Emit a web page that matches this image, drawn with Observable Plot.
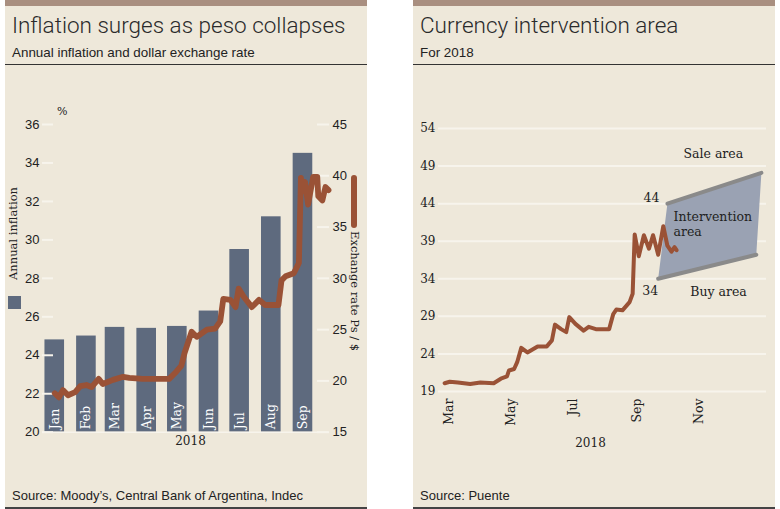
<!DOCTYPE html>
<html>
<head>
<meta charset="utf-8">
<script src="https://cdn.jsdelivr.net/npm/d3@7"></script>
<script src="https://cdn.jsdelivr.net/npm/@observablehq/plot@0.6"></script>
<style>
  html, body { margin: 0; padding: 0; background: #fff; }
  body { width: 780px; height: 509px; position: relative; overflow: hidden; }
  .panel { position: absolute; top: 0; width: 362px; height: 509px; background: #eee8da; }
  .topbar { position: absolute; left: 0; top: 0; width: 100%; height: 6px; background: #a98f80; }
  .title { position: absolute; left: 7px; top: 14px; font: 300 22.5px "Roboto", "Liberation Sans", sans-serif; color: #2a2a2a; white-space: nowrap; line-height: 1; }
  .subtitle { position: absolute; left: 7px; top: 46px; font: 13.4px "Liberation Sans", Arial, sans-serif; color: #222; white-space: nowrap; line-height: 1; }
  .rule { position: absolute; left: 0; top: 63.5px; width: 100%; height: 1.2px; background: #333; }
  .source { position: absolute; left: 7px; top: 489px; font: 13px "Liberation Sans", Arial, sans-serif; color: #222; white-space: nowrap; line-height: 1; }
  .bottomrule { position: absolute; left: 0; top: 507px; width: 100%; height: 2px; background: #444; }
  .chart { position: absolute; left: 0; top: 70px; }
  .vlabel { position: absolute; white-space: nowrap; font: 11.5px "DejaVu Serif", serif; color: #222; line-height: 1; }
  .up { writing-mode: vertical-rl; transform: rotate(180deg); }
  .down { writing-mode: vertical-rl; }
</style>
</head>
<body>
<div class="panel" style="left:5px">
  <div class="topbar"></div>
  <div class="title">Inflation surges as peso collapses</div>
  <div class="subtitle">Annual inflation and dollar exchange rate</div>
  <div class="rule"></div>
  <div id="inflationChart" class="chart"></div>
  <div class="vlabel up" style="left:3px; top:187px;">Annual inflation</div>
  <div style="position:absolute; left:3.3px; top:296px; width:12.4px; height:13px; background:#5e6a7e;"></div>
  <div class="vlabel" style="left:52px; top:106px; font-size:11px;">%</div>
  <div style="position:absolute; left:345.8px; top:175px; width:6.5px; height:53px; border-radius:3.3px; background:#9a5236;"></div>
  <div class="vlabel down" style="left:343px; top:231px;">Exchange rate Ps / $</div>
  <div class="source">Source: Moody’s, Central Bank of Argentina, Indec</div>
  <div class="bottomrule"></div>
</div>
<div class="panel" style="left:413px">
  <div class="topbar"></div>
  <div class="title">Currency intervention area</div>
  <div class="subtitle">For 2018</div>
  <div class="rule"></div>
  <div id="bandChart" class="chart"></div>
  <div class="source">Source: Puente</div>
  <div class="bottomrule"></div>
</div>
<script>
// ---- Inflation and exchange rate, 2018 ----
const months = ["Jan", "Feb", "Mar", "Apr", "May", "Jun", "Jul", "Aug", "Sep"];
const monthDates = ["2018-01-01", "2018-02-01", "2018-03-01", "2018-04-01", "2018-05-01",
                    "2018-06-01", "2018-07-01", "2018-08-01", "2018-09-01"];
const inflation = [24.8, 25.0, 25.45, 25.4, 25.5, 26.3, 29.5, 31.2, 34.5];
const inflationTicks = [20, 22, 24, 26, 28, 30, 32, 34, 36];
const rateTicks = [15, 20, 25, 30, 35, 40, 45];

const rateDates = [
  "2018-01-01", "2018-01-05", "2018-01-09", "2018-01-14", "2018-01-21", "2018-01-26",
  "2018-02-01", "2018-02-06", "2018-02-13", "2018-02-17", "2018-02-27", "2018-03-09",
  "2018-03-15", "2018-03-28", "2018-04-17", "2018-04-23", "2018-04-30", "2018-05-05",
  "2018-05-08", "2018-05-15", "2018-05-20", "2018-05-30", "2018-06-07", "2018-06-12",
  "2018-06-15", "2018-06-22", "2018-06-27", "2018-06-30", "2018-07-05", "2018-07-13",
  "2018-07-20", "2018-07-26", "2018-08-08", "2018-08-11", "2018-08-15", "2018-08-23",
  "2018-08-28", "2018-08-30", "2018-08-31", "2018-09-03", "2018-09-06", "2018-09-11",
  "2018-09-15", "2018-09-16", "2018-09-20", "2018-09-23", "2018-09-26"
];
const rateValues = [
  18.8, 18.4, 19.1, 18.6, 18.9, 19.5,
  19.6, 19.4, 20.2, 19.7, 20.1, 20.4,
  20.3, 20.2, 20.2, 20.2, 20.9, 21.5,
  22.7, 24.8, 24.3, 25.0, 25.1, 25.8,
  28.0, 27.9, 27.2, 29.0, 28.2, 27.2,
  27.9, 27.4, 27.4, 29.8, 30.2, 30.5,
  31.5, 39.8, 38.5, 39.4, 37.2, 39.9,
  39.9, 38.0, 37.6, 38.9, 38.6
];

// ---- Intervention band, 2018 ----
const bandTicks = [19, 24, 29, 34, 39, 44, 49, 54];
const bandMonthTicks = ["2018-03-01", "2018-05-01", "2018-07-01", "2018-09-01", "2018-11-01"];
const pesoDates = [
  "2018-02-25", "2018-03-02", "2018-03-10", "2018-03-22", "2018-04-01", "2018-04-14",
  "2018-04-21", "2018-04-27", "2018-04-29", "2018-05-04", "2018-05-07", "2018-05-11",
  "2018-05-17", "2018-05-27", "2018-06-05", "2018-06-10", "2018-06-13", "2018-06-19",
  "2018-06-24", "2018-06-27", "2018-07-03", "2018-07-11", "2018-07-16", "2018-07-23",
  "2018-08-05", "2018-08-09", "2018-08-12", "2018-08-18", "2018-08-25", "2018-08-28",
  "2018-08-30", "2018-09-03", "2018-09-08", "2018-09-13", "2018-09-17", "2018-09-22",
  "2018-09-27", "2018-10-01", "2018-10-05", "2018-10-08", "2018-10-10"
];
const pesoValues = [
  20.1, 20.3, 20.2, 20.0, 20.2, 20.1,
  20.7, 21.0, 21.8, 22.0, 22.9, 24.8,
  24.2, 25.0, 25.0, 25.8, 27.9, 27.3,
  26.9, 28.9, 28.0, 27.1, 27.6, 27.3,
  27.3, 29.3, 29.9, 29.8, 30.9, 32.0,
  39.9, 37.0, 39.8, 38.0, 39.8, 37.2,
  41.0, 38.4, 37.6, 38.2, 37.8
];
// ceiling (sale) and floor (buy) of the intervention band
const ceilingDates = ["2018-10-01", "2019-01-01"];
const ceilingValues = [44, 48.1];
const floorDates = ["2018-09-22", "2018-12-27"];
const floorValues = [34, 37.2];
const zoneLabels = ["Sale area", "Buy area"];
const zoneDates = ["2018-11-15", "2018-11-20"];
const zoneValues = [50.65, 32.3];
const innerLabel = "Intervention\narea";
const innerDate = "2018-10-07";
const innerValue = 41.3;

const SANS = "'Liberation Sans', Arial, sans-serif";
const SERIF = "'DejaVu Serif', serif";
const BAR = "#5e6a7e";
const PESO = "#9a5236";
const PALE = "#f7f4ec";
const DAY = 864e5;

// the exchange rate shares the inflation axis: 15..45 Ps/$ runs alongside 20..36 %
const toInflation = r => 20 + (r - 15) * 16 / 30;
const toRate = v => 15 + (v - 20) * 30 / 16;

const bars = months.map((m, i) => ({month: m, date: new Date(monthDates[i]), value: inflation[i]}));
const rate = rateDates.map((d, i) => ({date: new Date(d), value: rateValues[i]}));

const inflationPlot = Plot.plot({
  width: 362,
  height: 400,
  marginTop: 54,
  marginBottom: 38.3,
  marginLeft: 37,
  marginRight: 39,
  style: {background: "transparent", color: "#222", overflow: "visible"},
  x: {type: "utc", domain: [new Date("2017-12-20"), new Date("2018-09-26")], axis: null},
  y: {domain: [20, 36], axis: null, label: null},
  marks: [
    Plot.rectY(bars, {
      x1: d => new Date(+d.date - 9.6 * DAY),
      x2: d => new Date(+d.date + 9.6 * DAY),
      y1: 20, y2: "value", fill: BAR
    }),
    Plot.ruleY([20], {stroke: PALE, strokeWidth: 1.6}),
    Plot.axisY(inflationTicks, {anchor: "left", tickSize: 11, dx: 11, fill: "none", stroke: PALE, strokeWidth: 2, label: null}),
    Plot.axisY(rateTicks.map(toInflation), {anchor: "right", tickSize: 12, dx: -12, fill: "none", stroke: PALE, strokeWidth: 2, label: null}),
    Plot.text(bars, {
      x: "date", y: 20, text: "month", rotate: -90, textAnchor: "start", dy: -3,
      fill: "white", fontFamily: SERIF, fontSize: 12.5
    }),
    Plot.line(rate, {
      x: "date", y: d => toInflation(d.value), stroke: PESO, strokeWidth: 5.8,
      strokeLinejoin: "round", strokeLinecap: "round"
    }),
    Plot.axisY(inflationTicks, {anchor: "left", tickSize: 0, tickPadding: 3, fontFamily: SANS, fontSize: 13, label: null}),
    Plot.axisY(rateTicks.map(toInflation), {
      anchor: "right", tickSize: 0, tickPadding: 4, fontFamily: SANS, fontSize: 13, label: null,
      tickFormat: v => Math.round(toRate(v))
    }),
    Plot.text(["2018"], {frameAnchor: "bottom", dx: 5, dy: 13, fontFamily: SERIF, fontSize: 12, fill: "#222"})
  ]
});
document.getElementById("inflationChart").append(inflationPlot);

// ---- second panel ----
const peso = pesoDates.map((d, i) => ({date: new Date(d), value: pesoValues[i]}));
const ceiling = ceilingDates.map((d, i) => ({date: new Date(d), value: ceilingValues[i]}));
const floor = floorDates.map((d, i) => ({date: new Date(d), value: floorValues[i]}));
const bandOutline = [...ceiling, ...floor.slice().reverse()];
const zones = zoneLabels.map((t, i) => ({label: t, date: new Date(zoneDates[i]), value: zoneValues[i]}));

const bandPlot = Plot.plot({
  width: 362,
  height: 400,
  marginTop: 58,
  marginBottom: 79,
  marginLeft: 25,
  marginRight: 9,
  style: {background: "transparent", color: "#222", overflow: "visible"},
  x: {type: "utc", domain: [new Date("2018-02-19"), new Date("2019-01-06")], axis: null},
  y: {domain: [19, 54], axis: null, label: null},
  marks: [
    Plot.gridY(bandTicks, {stroke: PALE, strokeOpacity: 1, strokeWidth: 2}),
    Plot.axisY(bandTicks, {anchor: "left", tickSize: 0, tickPadding: 3, fontFamily: SERIF, fontSize: 12, label: null}),
    Plot.axisX(bandMonthTicks.map(d => new Date(d)), {
      anchor: "bottom", tickSize: 0, tickPadding: 7, tickRotate: -90, tickFormat: d3.utcFormat("%b"),
      fontFamily: SERIF, fontSize: 12.5, label: null
    }),
    Plot.line(bandOutline, {x: "date", y: "value", fill: "#9aa2b3", stroke: "none"}),
    Plot.line(ceiling, {x: "date", y: "value", stroke: "#8a8a8a", strokeWidth: 4, strokeLinecap: "round"}),
    Plot.line(floor, {x: "date", y: "value", stroke: "#8a8a8a", strokeWidth: 4, strokeLinecap: "round"}),
    Plot.line(peso, {x: "date", y: "value", stroke: PESO, strokeWidth: 4, strokeLinejoin: "round", strokeLinecap: "round"}),
    Plot.text([ceiling[0]], {x: "date", y: "value", text: d => d.value, dx: -16, dy: -6, fontFamily: SERIF, fontSize: 12.5, fill: "#222"}),
    Plot.text([floor[0]], {x: "date", y: "value", text: d => d.value, dx: -8, dy: 12, fontFamily: SERIF, fontSize: 12.5, fill: "#222"}),
    Plot.text(zones, {x: "date", y: "value", text: "label", fontFamily: SERIF, fontSize: 12.5, fill: "#222"}),
    Plot.text([innerLabel], {
      x: new Date(innerDate), y: innerValue, textAnchor: "start", lineHeight: 1.15,
      fontFamily: SERIF, fontSize: 12.5, fill: "#222"
    }),
    Plot.text(["2018"], {frameAnchor: "bottom", dx: -12, dy: 55, fontFamily: SERIF, fontSize: 12, fill: "#222"})
  ]
});
document.getElementById("bandChart").append(bandPlot);
</script>
</body>
</html>
